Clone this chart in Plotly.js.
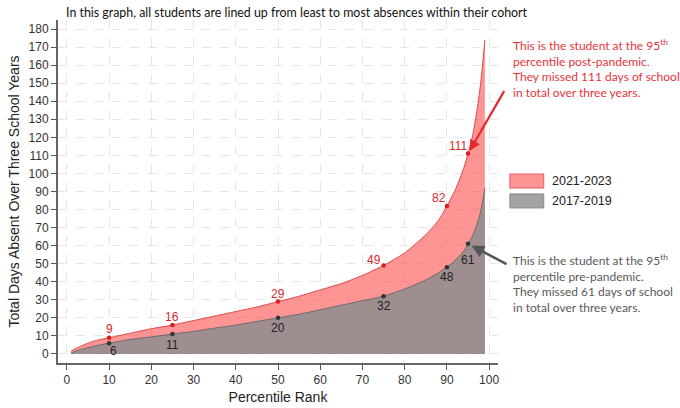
<!DOCTYPE html>
<html><head><meta charset="utf-8">
<script src="https://cdn.plot.ly/plotly-3.0.1.min.js"></script>
<style>html,body{margin:0;padding:0;background:#fff}#chart{width:680px;height:408px}</style>
</head><body><div id="chart"></div>
<script>
const pct = [1,2,3,5,7,10,15,20,25,30,35,40,45,50,55,60,65,70,75,80,85,88,90,92,94,95,96,97,98,99];
const post = [1.5,3,4,6,7.5,9,11.5,14,16,18.5,21,23.5,26,29,32,35.5,39,43.5,49,56,66,74,82,91,103,111,120,133,150,174];
const pre  = [0.5,1.5,2.3,3.5,4.6,6,8,9.5,11,12.5,14.3,16,18,20,22,24.5,27,29.5,32,36,41,45,48,52,57,61,65,71,79,92];
const keyPct = [10,25,50,75,90,95];
const keyPost = [9,16,29,49,82,111];
const keyPre = [6,11,20,32,48,61];
const seriesNames = ['2021-2023','2017-2019'];
// label offsets in pixels (style only)
const postShift = [[0,9],[0,8],[0,8],[-10,6],[-8,8],[-10,8]];
const preShift = [[4,-8],[0,-11],[0,-10],[0,-10],[0,-10],[0,-16]];

const red = '#e8323a';
const redFill = 'rgba(255,60,60,0.55)';
const grayFill = 'rgba(146,142,144,0.89)';
const traces = [
 {x:pct,y:post,type:'scatter',mode:'lines',fill:'tozeroy',name:seriesNames[0],showlegend:false,
  line:{color:'#e04848',width:1,shape:'spline',smoothing:0.6},fillcolor:redFill},
 {x:pct,y:pre,type:'scatter',mode:'lines',fill:'tozeroy',name:seriesNames[1],showlegend:false,
  line:{color:'#6a6a6a',width:1,shape:'spline',smoothing:0.6},fillcolor:grayFill},
 {x:keyPct,y:keyPost,type:'scatter',mode:'markers',showlegend:false,
  marker:{color:'#d62020',size:4.5},cliponaxis:false},
 {x:keyPct,y:keyPre,type:'scatter',mode:'markers',showlegend:false,
  marker:{color:'#333',size:4.5},cliponaxis:false}
];
const numFont = {family:'Liberation Sans, Arial',size:12};
const ann = [];
keyPct.forEach((p,i)=>{
  ann.push({x:p,y:keyPost[i],xref:'x',yref:'y',text:String(keyPost[i]),showarrow:false,
    xshift:postShift[i][0],yshift:postShift[i][1],yanchor:'middle',font:Object.assign({color:'#d42a2a'},numFont)});
  ann.push({x:p,y:keyPre[i],xref:'x',yref:'y',text:String(keyPre[i]),showarrow:false,
    xshift:preShift[i][0],yshift:preShift[i][1],yanchor:'middle',font:Object.assign({color:'#222'},numFont)});
});
const noteFont = 'Lato, Open Sans';
ann.push(
  {xref:'paper',yref:'paper',x:0.013,y:1.0,yanchor:'bottom',xanchor:'left',yshift:-2,showarrow:false,
   text:'In this graph, all students are lined up from least to most absences within their cohort',
   font:{family:noteFont,size:12.4,color:'#111'}},
  {xref:'paper',yref:'paper',x:1.03,y:0.955,xanchor:'left',yanchor:'top',align:'left',showarrow:false,
   text:'This is the student at the 95<sup>th</sup><br>percentile post-pandemic.<br>They missed 111 days of school<br>in total over three years.',
   font:{family:noteFont,size:12,color:red}},
  {xref:'paper',yref:'paper',x:1.03,y:0.33,xanchor:'left',yanchor:'top',align:'left',showarrow:false,
   text:'This is the student at the 95<sup>th</sup><br>percentile pre-pandemic.<br>They missed 61 days of school<br>in total over three years.',
   font:{family:noteFont,size:12,color:'#595959'}},
  {x:keyPct[5],y:keyPost[5],xref:'x',yref:'y',text:'',showarrow:true,arrowhead:2,arrowsize:1,arrowwidth:2.2,
   arrowcolor:'#e8282f',ax:37,ay:-64,standoff:3},
  {x:keyPct[5],y:keyPre[5],xref:'x',yref:'y',text:'',showarrow:true,arrowhead:2,arrowsize:1,arrowwidth:2.5,
   arrowcolor:'#555',ax:40,ay:21,standoff:4},
  {xref:'paper',yref:'paper',x:1.118,y:0.531,xanchor:'left',yanchor:'middle',showarrow:false,text:seriesNames[0],
   font:{family:'Liberation Sans, Arial',size:12.5,color:'#222'}},
  {xref:'paper',yref:'paper',x:1.118,y:0.473,xanchor:'left',yanchor:'middle',showarrow:false,text:seriesNames[1],
   font:{family:'Liberation Sans, Arial',size:12.5,color:'#222'}}
);
const shapes = [
  {type:'rect',xref:'paper',yref:'paper',x0:1.027,x1:1.104,y0:0.510,y1:0.551,fillcolor:redFill,line:{color:'#e06060',width:1}},
  {type:'rect',xref:'paper',yref:'paper',x0:1.027,x1:1.104,y0:0.452,y1:0.493,fillcolor:'#a3a3a3',line:{color:'#8a8a8a',width:1}}
];
const tickfont = {family:'Liberation Sans, Arial',size:12,color:'#333'};
const layout = {
 width:680,height:408,margin:{l:58,r:182,t:20,b:45},
 paper_bgcolor:'#fff',plot_bgcolor:'#fff',
 showlegend:false,
 xaxis:{range:[-2.1,102.1],tickvals:[0,10,20,30,40,50,60,70,80,90,100],ticks:'outside',ticklen:5,tickcolor:'#555',
   showline:true,linecolor:'#666',linewidth:2,showgrid:true,gridcolor:'#e6e6e6',griddash:'dash',zeroline:false,
   tickfont:tickfont,title:{text:'Percentile Rank',font:{family:'Liberation Sans, Arial',size:14,color:'#222'},standoff:6}},
 yaxis:{range:[-5,185],tickvals:[0,10,20,30,40,50,60,70,80,90,100,110,120,130,140,150,160,170,180],ticks:'outside',ticklen:5,tickcolor:'#555',
   showline:true,linecolor:'#666',linewidth:2,showgrid:true,gridcolor:'#e6e6e6',griddash:'dash',zeroline:false,
   tickfont:tickfont,title:{text:'Total Days Absent Over Three School Years',font:{family:'Liberation Sans, Arial',size:14,color:'#222'},standoff:6}},
 annotations:ann,
 shapes:shapes
};
Plotly.newPlot('chart',traces,layout,{displayModeBar:false,staticPlot:true});
</script></body></html>
